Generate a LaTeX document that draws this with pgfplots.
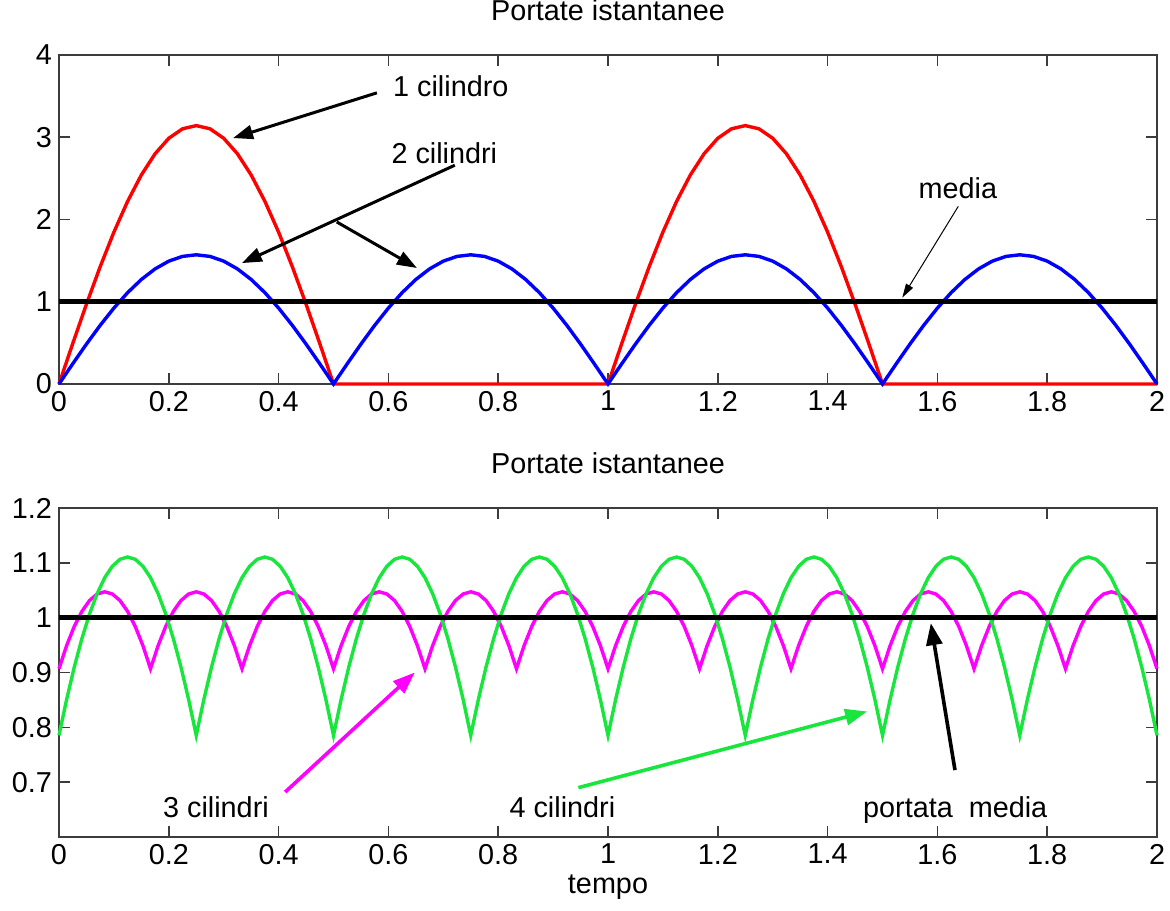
\documentclass[border=0pt]{standalone}
\usepackage{fontspec}
\setmainfont{Liberation Sans}
\usepackage{pgfplots}
\usepackage{pgfplotstable}
\pgfplotsset{compat=1.18}
\usetikzlibrary{arrows.meta}

\definecolor{mgreen}{RGB}{25,230,60}
\definecolor{mmag}{RGB}{255,0,255}
\definecolor{axgray}{RGB}{60,60,60}

% portate, 1 e 2 cilindri
\pgfplotstableread{
t c1 c2
0 0 0
0.025 0.4915 0.2457
0.05 0.9708 0.4854
0.075 1.4262 0.7131
0.1 1.8466 0.9233
0.125 2.2214 1.1107
0.15 2.5416 1.2708
0.175 2.7992 1.3996
0.2 2.9878 1.4939
0.225 3.1029 1.5515
0.25 3.1416 1.5708
0.275 3.1029 1.5515
0.3 2.9878 1.4939
0.325 2.7992 1.3996
0.35 2.5416 1.2708
0.375 2.2214 1.1107
0.4 1.8466 0.9233
0.425 1.4262 0.7131
0.45 0.9708 0.4854
0.475 0.4915 0.2457
0.5 0 0
0.525 0 0.2457
0.55 0 0.4854
0.575 0 0.7131
0.6 0 0.9233
0.625 0 1.1107
0.65 0 1.2708
0.675 0 1.3996
0.7 0 1.4939
0.725 0 1.5515
0.75 0 1.5708
0.775 0 1.5515
0.8 0 1.4939
0.825 0 1.3996
0.85 0 1.2708
0.875 0 1.1107
0.9 0 0.9233
0.925 0 0.7131
0.95 0 0.4854
0.975 0 0.2457
1 0 0
1.025 0.4915 0.2457
1.05 0.9708 0.4854
1.075 1.4262 0.7131
1.1 1.8466 0.9233
1.125 2.2214 1.1107
1.15 2.5416 1.2708
1.175 2.7992 1.3996
1.2 2.9878 1.4939
1.225 3.1029 1.5515
1.25 3.1416 1.5708
1.275 3.1029 1.5515
1.3 2.9878 1.4939
1.325 2.7992 1.3996
1.35 2.5416 1.2708
1.375 2.2214 1.1107
1.4 1.8466 0.9233
1.425 1.4262 0.7131
1.45 0.9708 0.4854
1.475 0.4915 0.2457
1.5 0 0
1.525 0 0.2457
1.55 0 0.4854
1.575 0 0.7131
1.6 0 0.9233
1.625 0 1.1107
1.65 0 1.2708
1.675 0 1.3996
1.7 0 1.4939
1.725 0 1.5515
1.75 0 1.5708
1.775 0 1.5515
1.8 0 1.4939
1.825 0 1.3996
1.85 0 1.2708
1.875 0 1.1107
1.9 0 0.9233
1.925 0 0.7131
1.95 0 0.4854
1.975 0 0.2457
2 0 0
}\toptable

% portate, 3 e 4 cilindri
\pgfplotstableread{
t c3 c4
0 0.9069 0.7854
0.0139 0.9491 0.8509
0.0278 0.9840 0.9098
0.0417 1.0115 0.9619
0.0556 1.0313 1.0067
0.0694 1.0432 1.0437
0.0833 1.0472 1.0729
0.0972 1.0432 1.0938
0.1111 1.0313 1.1065
0.125 1.0115 1.1107
0.1389 0.9840 1.1065
0.1528 0.9491 1.0938
0.1667 0.9069 1.0729
0.1806 0.9491 1.0437
0.1944 0.9840 1.0067
0.2083 1.0115 0.9619
0.2222 1.0313 0.9098
0.2361 1.0432 0.8509
0.25 1.0472 0.7854
0.2639 1.0432 0.8509
0.2778 1.0313 0.9098
0.2917 1.0115 0.9619
0.3056 0.9840 1.0067
0.3194 0.9491 1.0437
0.3333 0.9069 1.0729
0.3472 0.9491 1.0938
0.3611 0.9840 1.1065
0.375 1.0115 1.1107
0.3889 1.0313 1.1065
0.4028 1.0432 1.0938
0.4167 1.0472 1.0729
0.4306 1.0432 1.0437
0.4444 1.0313 1.0067
0.4583 1.0115 0.9619
0.4722 0.9840 0.9098
0.4861 0.9491 0.8509
0.5 0.9069 0.7854
0.5139 0.9491 0.8509
0.5278 0.9840 0.9098
0.5417 1.0115 0.9619
0.5556 1.0313 1.0067
0.5694 1.0432 1.0437
0.5833 1.0472 1.0729
0.5972 1.0432 1.0938
0.6111 1.0313 1.1065
0.625 1.0115 1.1107
0.6389 0.9840 1.1065
0.6528 0.9491 1.0938
0.6667 0.9069 1.0729
0.6806 0.9491 1.0437
0.6944 0.9840 1.0067
0.7083 1.0115 0.9619
0.7222 1.0313 0.9098
0.7361 1.0432 0.8509
0.75 1.0472 0.7854
0.7639 1.0432 0.8509
0.7778 1.0313 0.9098
0.7917 1.0115 0.9619
0.8056 0.9840 1.0067
0.8194 0.9491 1.0437
0.8333 0.9069 1.0729
0.8472 0.9491 1.0938
0.8611 0.9840 1.1065
0.875 1.0115 1.1107
0.8889 1.0313 1.1065
0.9028 1.0432 1.0938
0.9167 1.0472 1.0729
0.9306 1.0432 1.0437
0.9444 1.0313 1.0067
0.9583 1.0115 0.9619
0.9722 0.9840 0.9098
0.9861 0.9491 0.8509
1 0.9069 0.7854
1.0139 0.9491 0.8509
1.0278 0.9840 0.9098
1.0417 1.0115 0.9619
1.0556 1.0313 1.0067
1.0694 1.0432 1.0437
1.0833 1.0472 1.0729
1.0972 1.0432 1.0938
1.1111 1.0313 1.1065
1.125 1.0115 1.1107
1.1389 0.9840 1.1065
1.1528 0.9491 1.0938
1.1667 0.9069 1.0729
1.1806 0.9491 1.0437
1.1944 0.9840 1.0067
1.2083 1.0115 0.9619
1.2222 1.0313 0.9098
1.2361 1.0432 0.8509
1.25 1.0472 0.7854
1.2639 1.0432 0.8509
1.2778 1.0313 0.9098
1.2917 1.0115 0.9619
1.3056 0.9840 1.0067
1.3194 0.9491 1.0437
1.3333 0.9069 1.0729
1.3472 0.9491 1.0938
1.3611 0.9840 1.1065
1.375 1.0115 1.1107
1.3889 1.0313 1.1065
1.4028 1.0432 1.0938
1.4167 1.0472 1.0729
1.4306 1.0432 1.0437
1.4444 1.0313 1.0067
1.4583 1.0115 0.9619
1.4722 0.9840 0.9098
1.4861 0.9491 0.8509
1.5 0.9069 0.7854
1.5139 0.9491 0.8509
1.5278 0.9840 0.9098
1.5417 1.0115 0.9619
1.5556 1.0313 1.0067
1.5694 1.0432 1.0437
1.5833 1.0472 1.0729
1.5972 1.0432 1.0938
1.6111 1.0313 1.1065
1.625 1.0115 1.1107
1.6389 0.9840 1.1065
1.6528 0.9491 1.0938
1.6667 0.9069 1.0729
1.6806 0.9491 1.0437
1.6944 0.9840 1.0067
1.7083 1.0115 0.9619
1.7222 1.0313 0.9098
1.7361 1.0432 0.8509
1.75 1.0472 0.7854
1.7639 1.0432 0.8509
1.7778 1.0313 0.9098
1.7917 1.0115 0.9619
1.8056 0.9840 1.0067
1.8194 0.9491 1.0437
1.8333 0.9069 1.0729
1.8472 0.9491 1.0938
1.8611 0.9840 1.1065
1.875 1.0115 1.1107
1.8889 1.0313 1.1065
1.9028 1.0432 1.0938
1.9167 1.0472 1.0729
1.9306 1.0432 1.0437
1.9444 1.0313 1.0067
1.9583 1.0115 0.9619
1.9722 0.9840 0.9098
1.9861 0.9491 0.8509
2 0.9069 0.7854
}\bottable

\pgfplotsset{
  portate/.style={
    scale only axis, width=549pt, height=164.5pt,
    anchor=south west, clip=false,
    xmin=0, xmax=2,
    xtick={0,0.2,0.4,0.6,0.8,1,1.2,1.4,1.6,1.8,2},
    tick align=inside, tick pos=both,
    major tick length=5.5pt,
    every tick/.style={axgray, line width=0.8pt},
    axis line style={axgray, line width=0.9pt},
    /pgf/number format/assume math mode=true,
    /pgf/number format/fixed,
    ticklabel style={font=\fontsize{14.4}{17}\selectfont},
    title style={font=\fontsize{14.4}{17}\selectfont, anchor=base,
      at={(0.5,1)}, yshift=11.5pt},
    xlabel style={font=\fontsize{14.4}{17}\selectfont, anchor=base,
      at={(axis description cs:0.5,0)}, yshift=-28pt},
  },
}
\tikzset{lbl/.style={font=\fontsize{14.4}{17}\selectfont, anchor=base west, inner sep=0pt}}

\begin{document}
\begin{tikzpicture}
\begin{axis}[portate, at={(0,0)},
  ymin=0, ymax=4, ytick={0,1,2,3,4},
  title={Portate istantanee}]
\addplot[red, line width=1.7pt] table[x=t, y=c1] {\toptable};
\addplot[blue, line width=1.7pt] table[x=t, y=c2] {\toptable};
\addplot[black, line width=2.6pt] coordinates {(0,1) (2,1)};

\node[lbl] at (axis cs:0.608,3.49) {1 cilindro};
\node[lbl] at (axis cs:0.605,2.675) {2 cilindri};
\node[lbl] at (axis cs:1.565,2.26) {media};
\draw[line width=1.5pt, -{Triangle[length=10pt, width=7pt]}]
  (axis cs:0.579,3.54) -- (axis cs:0.317,2.99);
\draw[line width=1.5pt, -{Triangle[length=10pt, width=7pt]}]
  (axis cs:0.721,2.66) -- (axis cs:0.333,1.47);
\draw[line width=1.5pt, -{Triangle[length=10pt, width=7pt]}]
  (axis cs:0.506,1.97) -- (axis cs:0.652,1.41);
\draw[line width=0.5pt, -{Triangle[length=7pt, width=4pt]}]
  (axis cs:1.638,2.16) -- (axis cs:1.536,1.05);
\end{axis}

\begin{axis}[portate, at={(0,-226.5pt)},
  ymin=0.6, ymax=1.2, ytick={0.7,0.8,0.9,1,1.1,1.2},
  title={Portate istantanee}, xlabel={tempo}]
\addplot[mmag, line width=1.7pt] table[x=t, y=c3] {\bottable};
\addplot[mgreen, line width=1.7pt] table[x=t, y=c4] {\bottable};
\addplot[black, line width=2.6pt] coordinates {(0,1) (2,1)};

\node[lbl] at (axis cs:0.189,0.635) {3 cilindri};
\node[lbl] at (axis cs:0.82,0.635) {4 cilindri};
\node[lbl] at (axis cs:1.464,0.636) {portata\ \ media};
\draw[mmag, line width=1.8pt, -{Triangle[length=11pt, width=8pt]}]
  (axis cs:0.412,0.682) -- (axis cs:0.648,0.90);
\draw[mgreen, line width=1.8pt, -{Triangle[length=11pt, width=8pt]}]
  (axis cs:0.946,0.69) -- (axis cs:1.472,0.829);
\draw[black, line width=1.8pt, -{Triangle[length=11pt, width=8pt]}]
  (axis cs:1.632,0.722) -- (axis cs:1.588,0.99);
\end{axis}

\pgfresetboundingbox
\path (-29.5pt,192pt) rectangle (555.5pt,-263pt);
\end{tikzpicture}
\end{document}
